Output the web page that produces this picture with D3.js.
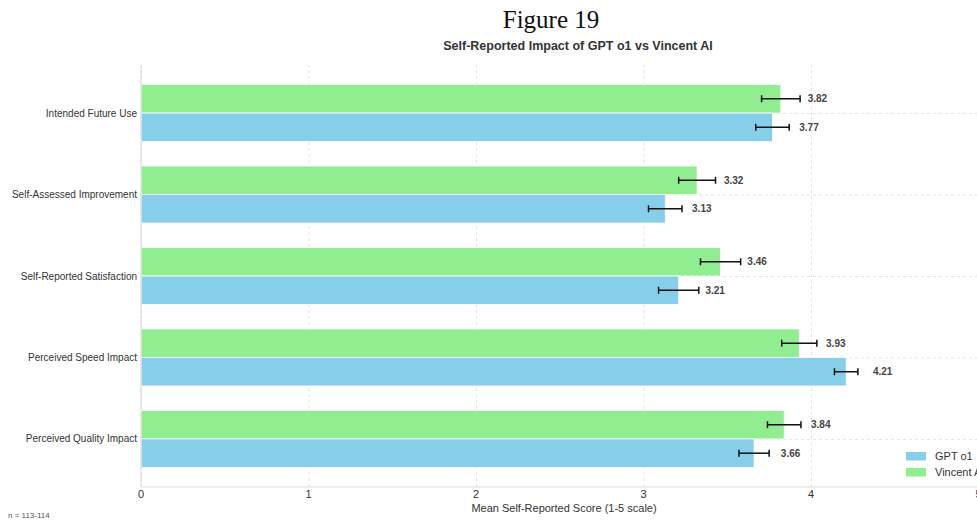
<!DOCTYPE html>
<html>
<head>
<meta charset="utf-8">
<script src="https://cdn.jsdelivr.net/npm/d3@7"></script>
<style>
  body { margin: 0; background: #fff; }
  svg { display: block; font-family: "Liberation Sans", Arial, sans-serif; }
  .grid line { stroke: #e3e3e3; stroke-dasharray: 3,3; }
  .grid path { display: none; }
</style>
</head>
<body>
<svg id="chart" width="977" height="521"></svg>
<script>
    // categories listed bottom to top
    var categories = ['Perceived Quality Impact', 'Perceived Speed Impact', 'Self-Reported Satisfaction',
                      'Self-Assessed Improvement', 'Intended Future Use'];
    var gptMeans = [3.66, 4.21, 3.21, 3.13, 3.77];
    var gptErr = [0.09, 0.07, 0.12, 0.10, 0.10];
    var vincentMeans = [3.84, 3.93, 3.46, 3.32, 3.82];
    var vincentErr = [0.10, 0.105, 0.12, 0.11, 0.115];
    var seriesNames = ['GPT o1', 'Vincent AI'];
    var xTicks = [0, 1, 2, 3, 4, 5];

(function() {
    'use strict';

    var colors = {'GPT o1': '#87CEEB', 'Vincent AI': '#90EE90'},
        mLeft = 141, mRight = 978.5, mTop = 65, mBottom = 487,
        barH = 0.35;

    var svg = d3.select('#chart');

    var x = d3.scaleLinear().domain([0, 5]).range([mLeft, mRight]);
    var y = d3.scaleLinear().domain([-0.59, categories.length - 1 + 0.59]).range([mBottom, mTop]);

    // gridlines
    svg.append('g')
        .attr('class', 'grid')
        .attr('transform', 'translate(0,' + mBottom + ')')
        .call(d3.axisBottom(x).tickValues(xTicks).tickSize(-(mBottom - mTop)).tickFormat(''));
    svg.append('g')
        .attr('class', 'grid')
        .attr('transform', 'translate(' + mLeft + ',0)')
        .call(d3.axisLeft(y).tickValues(d3.range(categories.length)).tickSize(-(mRight - mLeft)).tickFormat(''));

    var data = categories.map(function(c, i) {
        return [
            {cat: i, name: 'Vincent AI', v: vincentMeans[i], e: vincentErr[i], off: barH},
            {cat: i, name: 'GPT o1', v: gptMeans[i], e: gptErr[i], off: 0}
        ];
    }).flat();

    svg.selectAll('rect.bar')
        .data(data)
        .enter().append('rect')
        .attr('class', 'bar')
        .attr('x', x(0))
        .attr('y', function(d) { return y(d.cat + d.off); })
        .attr('width', function(d) { return x(d.v) - x(0); })
        .attr('height', function(d) { return y(d.cat + d.off - barH) - y(d.cat + d.off); })
        .attr('fill', function(d) { return colors[d.name]; })
        .attr('stroke', '#fff')
        .attr('stroke-width', 0.8);

    // error bars
    var eb = svg.selectAll('g.err')
        .data(data)
        .enter().append('g')
        .attr('class', 'err')
        .attr('transform', function(d) { return 'translate(0,' + y(d.cat + d.off - barH / 2) + ')'; });
    eb.append('line')
        .attr('x1', function(d) { return x(d.v - d.e); })
        .attr('x2', function(d) { return x(d.v + d.e); })
        .attr('stroke', '#111').attr('stroke-width', 1.5);
    eb.selectAll('line.cap')
        .data(function(d) { return [d.v - d.e, d.v + d.e]; })
        .enter().append('line')
        .attr('class', 'cap')
        .attr('x1', function(v) { return x(v); })
        .attr('x2', function(v) { return x(v); })
        .attr('y1', -3.5).attr('y2', 3.5)
        .attr('stroke', '#111').attr('stroke-width', 1.5);
    eb.append('text')
        .attr('x', function(d) { return x(d.v + 0.16); })
        .attr('dy', '0.35em')
        .attr('font-size', 10)
        .attr('font-weight', 'bold')
        .attr('fill', '#444')
        .text(function(d) { return d.v.toFixed(2); });

    // spines
    svg.append('line').attr('x1', mLeft).attr('x2', mRight).attr('y1', mBottom).attr('y2', mBottom)
        .attr('stroke', '#ddd').attr('stroke-width', 1.2);
    svg.append('line').attr('x1', mLeft).attr('x2', mLeft).attr('y1', mTop).attr('y2', mBottom)
        .attr('stroke', '#ddd').attr('stroke-width', 1.2);

    // x tick labels
    svg.selectAll('text.xt')
        .data(xTicks)
        .enter().append('text')
        .attr('class', 'xt')
        .attr('x', function(d) { return x(d); })
        .attr('y', 498)
        .attr('text-anchor', 'middle')
        .attr('font-size', 11)
        .attr('fill', '#333')
        .text(function(d) { return d; });

    // y labels
    svg.selectAll('text.yt')
        .data(categories)
        .enter().append('text')
        .attr('class', 'yt')
        .attr('x', mLeft - 4)
        .attr('y', function(d, i) { return y(i); })
        .attr('dy', '0.35em')
        .attr('text-anchor', 'end')
        .attr('font-size', 10)
        .attr('fill', '#333')
        .text(function(d) { return d; });

    // titles
    svg.append('text').attr('x', 551).attr('y', 28).attr('text-anchor', 'middle')
        .attr('font-family', '"Liberation Serif", "DejaVu Serif", serif').attr('font-size', 25)
        .attr('fill', '#111').text('Figure 19');
    svg.append('text').attr('x', 578).attr('y', 50).attr('text-anchor', 'middle')
        .attr('font-size', 12.5).attr('font-weight', 'bold').attr('fill', '#333')
        .text('Self-Reported Impact of GPT o1 vs Vincent AI');
    svg.append('text').attr('x', 564).attr('y', 512).attr('text-anchor', 'middle')
        .attr('font-size', 11).attr('fill', '#333')
        .text('Mean Self-Reported Score (1-5 scale)');
    svg.append('text').attr('x', 8).attr('y', 518)
        .attr('font-size', 8).attr('fill', '#555').text('n = 113-114');

    // legend
    var lg = svg.selectAll('g.lg')
        .data(seriesNames)
        .enter().append('g')
        .attr('class', 'lg')
        .attr('transform', function(d, i) { return 'translate(906,' + (452 + i * 16) + ')'; });
    lg.append('rect').attr('width', 20).attr('height', 8.5)
        .attr('fill', function(d) { return colors[d]; });
    lg.append('text').attr('x', 29).attr('y', 4.5).attr('dy', '0.35em')
        .attr('font-size', 11).attr('fill', '#333')
        .text(function(d) { return d; });
})();
</script>
</body>
</html>
